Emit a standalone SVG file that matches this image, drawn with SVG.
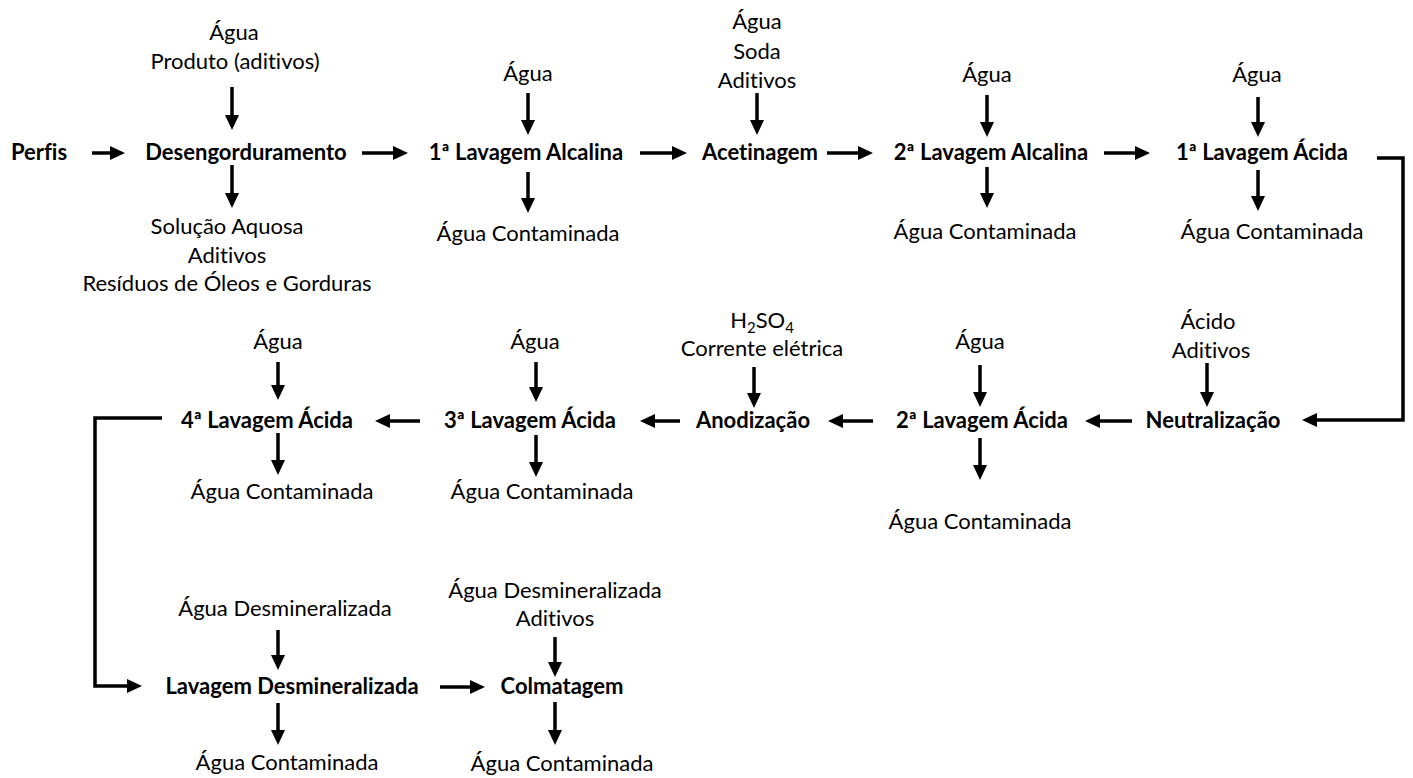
<svg xmlns="http://www.w3.org/2000/svg" width="1413" height="778" viewBox="0 0 1413 778">
  <defs>
    <marker id="head" markerUnits="userSpaceOnUse" markerWidth="15" markerHeight="14" refX="3" refY="7" orient="auto">
      <path d="M0,0 L15,7 L0,14 z" fill="#000"/>
    </marker>
    <style>
      .node { font-family: Lato, "Liberation Sans", sans-serif; font-weight: bold; font-size: 22px; fill: #000; text-anchor: middle; font-variant-ligatures: none; }
      .lbl { font-family: Lato, "Liberation Sans", sans-serif; font-size: 22px; fill: #000; text-anchor: middle; font-variant-ligatures: none; }
      .conn { stroke: #000; stroke-width: 3.5; fill: none; marker-end: url(#head); }
      .elbow { stroke: #000; stroke-width: 3.5; fill: none; stroke-linejoin: miter; marker-end: url(#head); }
    </style>
  </defs>
  <rect width="1413" height="778" fill="#fff"/>

  <!-- connectors: arrow shafts end 12px short of the tip; the marker supplies the head -->
  <g id="connectors">
    <!-- row 1, left to right -->
    <line class="conn" x1="92" y1="153" x2="113" y2="153"/>
    <line class="conn" x1="362" y1="153" x2="396" y2="153"/>
    <line class="conn" x1="640" y1="153" x2="675" y2="153"/>
    <line class="conn" x1="827" y1="153" x2="861" y2="153"/>
    <line class="conn" x1="1104" y1="153" x2="1138" y2="153"/>
    <!-- right-hand return to row 2 -->
    <path class="elbow" d="M1377,158 H1403 V420 H1314"/>
    <!-- row 2, right to left -->
    <line class="conn" x1="1132" y1="421" x2="1097" y2="421"/>
    <line class="conn" x1="873" y1="421" x2="840" y2="421"/>
    <line class="conn" x1="680" y1="421" x2="652" y2="421"/>
    <line class="conn" x1="420" y1="421" x2="387" y2="421"/>
    <!-- left-hand return to row 3 -->
    <path class="elbow" d="M162,418 H95 V686 H130"/>
    <!-- row 3 -->
    <line class="conn" x1="440" y1="687" x2="473" y2="687"/>

    <!-- inputs (down into step) and outputs (down out of step) -->
    <line class="conn" x1="232" y1="87" x2="232" y2="118"/>
    <line class="conn" x1="232" y1="165" x2="232" y2="196"/>
    <line class="conn" x1="528" y1="93" x2="528" y2="123"/>
    <line class="conn" x1="528" y1="172" x2="528" y2="201"/>
    <line class="conn" x1="757" y1="93" x2="757" y2="123"/>
    <line class="conn" x1="987" y1="95" x2="987" y2="125"/>
    <line class="conn" x1="987" y1="167" x2="987" y2="196"/>
    <line class="conn" x1="1258" y1="97" x2="1258" y2="125"/>
    <line class="conn" x1="1258" y1="170" x2="1258" y2="199"/>

    <line class="conn" x1="278" y1="362" x2="278" y2="388"/>
    <line class="conn" x1="278" y1="433" x2="278" y2="463"/>
    <line class="conn" x1="536" y1="362" x2="536" y2="390"/>
    <line class="conn" x1="536" y1="435" x2="536" y2="465"/>
    <line class="conn" x1="754" y1="367" x2="754" y2="396"/>
    <line class="conn" x1="980" y1="365" x2="980" y2="395"/>
    <line class="conn" x1="980" y1="438" x2="980" y2="468"/>
    <line class="conn" x1="1207" y1="363" x2="1207" y2="395"/>

    <line class="conn" x1="278" y1="630" x2="278" y2="658"/>
    <line class="conn" x1="278" y1="703" x2="278" y2="733"/>
    <line class="conn" x1="555" y1="637" x2="555" y2="665"/>
    <line class="conn" x1="555" y1="702" x2="555" y2="733"/>
  </g>

  <!-- row 1 -->
  <g id="perfis"><text class="node" x="39" y="160">Perfis</text></g>

  <g id="desengorduramento">
    <text class="lbl" x="234" y="40">Água</text>
    <text class="lbl" x="235" y="69">Produto (aditivos)</text>
    <text class="node" x="246" y="160">Desengorduramento</text>
    <text class="lbl" x="227" y="234">Solução Aquosa</text>
    <text class="lbl" x="227" y="263">Aditivos</text>
    <text class="lbl" x="227" y="291">Resíduos de Óleos e Gorduras</text>
  </g>

  <g id="lavagem-alcalina-1">
    <text class="lbl" x="528" y="81">Água</text>
    <text class="node" x="526" y="160">1ª Lavagem Alcalina</text>
    <text class="lbl" x="528" y="241">Água Contaminada</text>
  </g>

  <g id="acetinagem">
    <text class="lbl" x="757" y="29">Água</text>
    <text class="lbl" x="757" y="59">Soda</text>
    <text class="lbl" x="757" y="88">Aditivos</text>
    <text class="node" x="760" y="160">Acetinagem</text>
  </g>

  <g id="lavagem-alcalina-2">
    <text class="lbl" x="987" y="82">Água</text>
    <text class="node" x="991" y="160">2ª Lavagem Alcalina</text>
    <text class="lbl" x="985" y="239">Água Contaminada</text>
  </g>

  <g id="lavagem-acida-1">
    <text class="lbl" x="1257" y="82">Água</text>
    <text class="node" x="1262" y="160">1ª Lavagem Ácida</text>
    <text class="lbl" x="1272" y="239">Água Contaminada</text>
  </g>

  <!-- row 2 -->
  <g id="neutralizacao">
    <text class="lbl" x="1208" y="329">Ácido</text>
    <text class="lbl" x="1211" y="358">Aditivos</text>
    <text class="node" x="1213" y="428">Neutralização</text>
  </g>

  <g id="lavagem-acida-2">
    <text class="lbl" x="980" y="349">Água</text>
    <text class="node" x="982" y="428">2ª Lavagem Ácida</text>
    <text class="lbl" x="980" y="529">Água Contaminada</text>
  </g>

  <g id="anodizacao">
    <text class="lbl" x="762" y="328">H<tspan font-size="15" dy="5">2</tspan><tspan dy="-5">SO</tspan><tspan font-size="15" dy="5">4</tspan></text>
    <text class="lbl" x="762" y="356">Corrente elétrica</text>
    <text class="node" x="753" y="428">Anodização</text>
  </g>

  <g id="lavagem-acida-3">
    <text class="lbl" x="535" y="349">Água</text>
    <text class="node" x="530" y="428">3ª Lavagem Ácida</text>
    <text class="lbl" x="542" y="499">Água Contaminada</text>
  </g>

  <g id="lavagem-acida-4">
    <text class="lbl" x="278" y="349">Água</text>
    <text class="node" x="267" y="428">4ª Lavagem Ácida</text>
    <text class="lbl" x="282" y="499">Água Contaminada</text>
  </g>

  <!-- row 3 -->
  <g id="lavagem-desmineralizada">
    <text class="lbl" x="285" y="616">Água Desmineralizada</text>
    <text class="node" x="292" y="694">Lavagem Desmineralizada</text>
    <text class="lbl" x="287" y="770">Água Contaminada</text>
  </g>

  <g id="colmatagem">
    <text class="lbl" x="555" y="598">Água Desmineralizada</text>
    <text class="lbl" x="555" y="626">Aditivos</text>
    <text class="node" x="562" y="694">Colmatagem</text>
    <text class="lbl" x="562" y="771">Água Contaminada</text>
  </g>
</svg>
